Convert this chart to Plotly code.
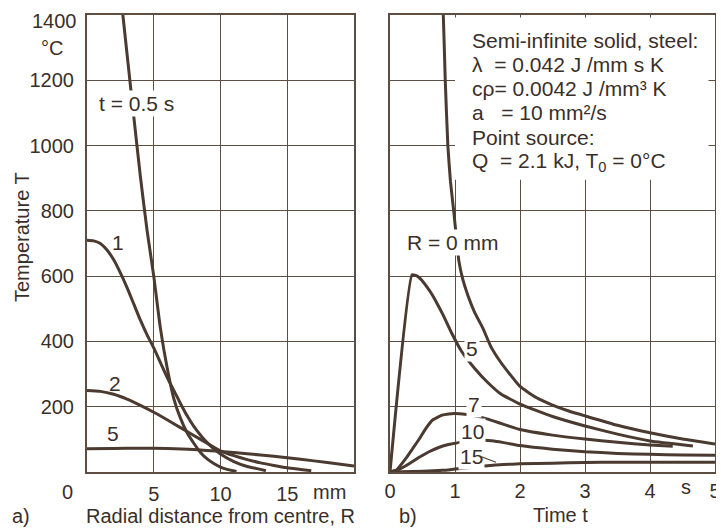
import plotly.graph_objects as go

# ---------------- data ----------------
# Panel a) temperature vs radial distance R (mm) for several times t
R_t05 = [2.0, 2.5, 3.0, 3.5, 4.0, 4.5, 5.0, 5.5, 6.0, 6.5, 7.0, 7.5, 8.0, 8.5, 9.0, 9.5, 10.0, 10.5, 11.2]
T_t05 = [1640, 1470, 1280, 1090, 905, 740, 600, 440, 320, 225, 165, 120, 88, 60, 40, 26, 15, 8, 2]

R_t1 = [0, 0.5, 1, 1.5, 2, 2.5, 3, 3.5, 4, 4.5, 5, 5.5, 6, 6.5, 7, 7.5, 8, 9, 10, 11, 12, 13, 13.4]
T_t1 = [710, 708, 700, 680, 650, 610, 565, 515, 465, 420, 380, 335, 290, 250, 210, 172, 140, 90, 55, 32, 17, 8, 4]

R_t2 = [0, 1, 2, 3, 4, 5, 6, 7, 8, 9, 10, 11, 12, 13, 14, 15, 16, 16.8]
T_t2 = [250, 247, 238, 223, 204, 183, 160, 136, 112, 88, 65, 50, 38, 28, 20, 13, 8, 4]

R_t5 = [0, 2, 4, 6, 8, 10, 12, 14, 16, 18, 20]
T_t5 = [71, 72, 73, 72, 69, 63, 56, 48, 39, 29, 18]

# Panel b) temperature vs time t (s) for several distances R
t_R0 = [0.79, 0.82, 0.85, 0.89, 0.93, 0.98, 1.02, 1.06, 1.12, 1.2, 1.3, 1.43, 1.55, 1.69,
        1.85, 2.0, 2.25, 2.5, 2.75, 3.0, 3.5, 4.0, 4.5, 5.0]
T_R0 = [1500, 1400, 1200, 1000, 890, 800, 720, 646, 590, 540, 490, 440, 385, 340,
        298, 262, 228, 205, 187, 172, 143, 120, 101, 86]

t_R5 = [0.0, 0.34, 0.42, 0.52, 0.62, 0.72, 0.82, 0.95, 1.1, 1.3, 1.5, 1.7, 2.0,
        2.5, 3.0, 3.5, 4.0, 4.66]
T_R5 = [0, 604, 600, 580, 552, 518, 480, 425, 370, 318, 275, 240, 208,
        170, 141, 116, 95, 80]

t_R7 = [0.0, 0.1, 0.25, 0.35, 0.45, 0.55, 0.66, 0.8, 0.9, 1.0, 1.15, 1.3, 1.45, 1.6, 1.75,
        2.0, 2.5, 3.0, 3.5, 4.0, 4.35]
T_R7 = [0, 6, 43, 72, 101, 133, 160, 174, 178, 179, 177, 172, 165, 156, 146,
        130, 113, 101, 91, 83, 79]

t_R10 = [0, 0.1, 0.25, 0.45, 0.6, 0.75, 0.9, 1.06, 1.25, 1.43, 1.6, 1.75, 2.0, 2.5, 3.0,
         3.5, 4.0, 4.5, 5.0]
T_R10 = [0, 5, 20, 45, 62, 75, 84, 90, 95, 97, 95, 90, 81, 70, 62, 57, 54, 52, 51]

t_R15 = [0, 0.5, 0.8, 1.0, 1.25, 1.5, 1.75, 2.0, 2.5, 3.0, 3.5, 4.0, 5.0]
T_R15 = [0, 2, 5, 9, 14, 19, 23, 25, 27, 29, 30, 30, 30]

y_ticks = [200, 400, 600, 800, 1000, 1200]
y_top_label = "1400"
xa_ticks = [5, 10, 15]
xb_ticks = [0, 1, 2, 3, 4, 5]

# ---------------- style ----------------
OFF = 8                      # page body margin
W, H = 724 - OFF, 528 - OFF
LINE = "#4a3a2f"
GRID = "#5e4d41"
TXT = "#3a2f28"
FONT = "Liberation Sans, Arial, Helvetica, sans-serif"
FS_TICK = 20
FS = 21


def px(x):
    return (x - OFF) / W


def py(y):
    return 1 - (y - OFF) / H


fig = go.Figure()

for xs, ys in [(R_t05, T_t05), (R_t1, T_t1), (R_t2, T_t2), (R_t5, T_t5)]:
    fig.add_trace(go.Scatter(x=xs, y=ys, mode="lines", line=dict(color=LINE, width=3, shape="spline", smoothing=0.6),
                             xaxis="x", yaxis="y", showlegend=False, hoverinfo="skip"))

for xs, ys in [(t_R0, T_R0), (t_R5, T_R5), (t_R7, T_R7), (t_R10, T_R10), (t_R15, T_R15)]:
    fig.add_trace(go.Scatter(x=xs, y=ys, mode="lines", line=dict(color=LINE, width=3, shape="spline", smoothing=0.4),
                             xaxis="x2", yaxis="y2", showlegend=False, hoverinfo="skip"))

axis_common = dict(showline=True, mirror=True, linecolor=GRID, linewidth=2, automargin=False,
                   showgrid=True, gridcolor=GRID, gridwidth=1.3, zeroline=False,
                   ticks="", tickfont=dict(family=FONT, size=FS_TICK, color=TXT), fixedrange=True)

y0d, y1d = py(472), py(15)

fig.update_layout(
    width=W, height=H,
    margin=dict(l=0, r=0, t=0, b=0),
    paper_bgcolor="white", plot_bgcolor="white",
    xaxis=dict(domain=[px(87), px(354)], range=[0, 20], tickvals=xa_ticks,
               ticktext=[str(v) for v in xa_ticks], anchor="y", ticklabelstandoff=3, **axis_common),
    yaxis=dict(domain=[y0d, y1d], range=[0, 1400], tickvals=y_ticks,
               ticktext=[str(v) for v in y_ticks], anchor="x", ticklabelstandoff=7, **axis_common),
    xaxis2=dict(domain=[px(390), px(715)], range=[0, 5], tickvals=xb_ticks,
                ticktext=[str(v) for v in xb_ticks], anchor="y2", ticklabelstandoff=0, **axis_common),
    yaxis2=dict(domain=[y0d, y1d], range=[0, 1400], tickvals=y_ticks,
                showticklabels=False, anchor="x2", **axis_common),
    shapes=[dict(type="rect", xref="x2", yref="y2", x0=1.0, x1=4.9, y0=895, y1=1392,
                 fillcolor="white", line=dict(width=0), layer="between")],
)

ann = []


def txt(x, y, s, xa="center", size=FS, bg=None, angle=0):
    d = dict(x=px(x), y=py(y), xref="paper", yref="paper", text=s, showarrow=False,
             xanchor=xa, yanchor="middle", font=dict(family=FONT, size=size, color=TXT), textangle=angle)
    if bg:
        d["bgcolor"] = bg
        d["borderpad"] = 1
    ann.append(d)


# panel a texts
txt(79, 21, y_top_label, xa="right", size=FS_TICK)
txt(52, 48, "°C", size=FS_TICK)
txt(22, 237, "Temperature T", size=20, angle=-90)
txt(68, 492, "0", size=FS_TICK)
txt(329, 492, "mm", size=FS_TICK)
txt(21, 516, "a)", size=20)
txt(220, 516, "Radial distance from centre, R", size=20)
txt(136, 103, "t = 0.5 s", bg="white")
txt(118, 243, "1")
txt(115, 383, "2")
txt(113, 433, "5")

# panel b texts
txt(686, 487, "s", size=FS_TICK)
txt(408, 516, "b)", size=20)
txt(560, 515, "Time t", size=20)
txt(453, 243, "R = 0 mm", bg="white")
txt(472, 348, "5", bg="white")
txt(474, 404, "7", bg="white")
txt(472, 431, "10", bg="white")
txt(471, 456, "15", bg="white")

info = ["Semi-infinite solid, steel:",
        "λ\u00a0\u00a0= 0.042 J /mm s K",
        "cρ= 0.0042 J /mm³ K",
        "a\u00a0\u00a0 = 10 mm²/s",
        "Point source:",
        "Q\u00a0 = 2.1 kJ, T<sub>0</sub> = 0°C"]
for i, line in enumerate(info):
    txt(470, 40 + i * 24.3, line, xa="left")

# leader for "15"
ann.append(dict(x=1.63, y=30, xref="x2", yref="y2", ax=-16, ay=-6, axref="pixel", ayref="pixel",
                showarrow=True, arrowhead=0, arrowwidth=1.2, arrowcolor=LINE, text="", standoff=0))

fig.update_layout(annotations=ann)
fig.write_html("out.html")
